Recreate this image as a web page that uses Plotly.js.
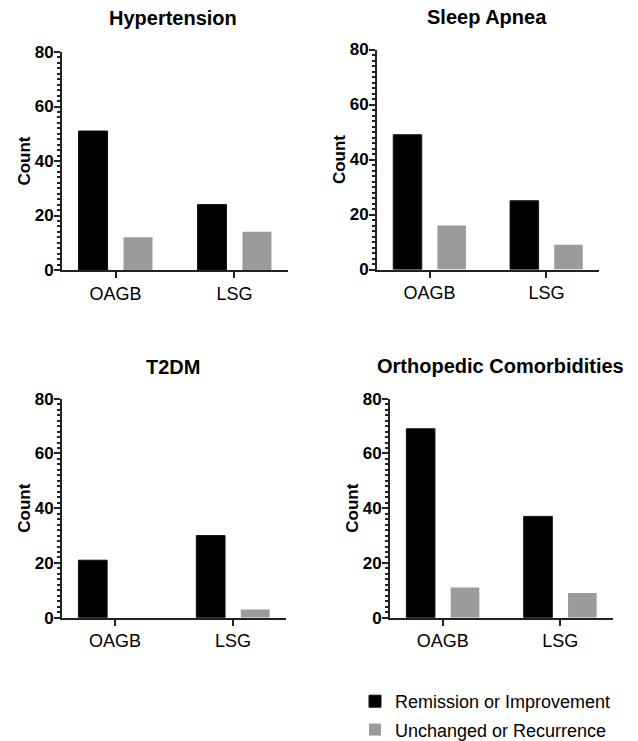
<!DOCTYPE html>
<html>
<head>
<meta charset="utf-8">
<script src="https://cdn.plot.ly/plotly-3.0.1.min.js"></script>
<style>html,body{margin:0;padding:0;background:#fff;}#chart{width:638px;height:741px;}</style>
</head>
<body>
<div id="chart"></div>
<script>
const categories = ["OAGB", "LSG"];
const panelTitles = ["Hypertension", "Sleep Apnea", "T2DM", "Orthopedic Comorbidities"];
const seriesNames = ["Remission or Improvement", "Unchanged or Recurrence"];
const remission = {
  "Hypertension": [51, 24],
  "Sleep Apnea": [49, 25],
  "T2DM": [21, 30],
  "Orthopedic Comorbidities": [69, 37]
};
const unchanged = {
  "Hypertension": [12, 14],
  "Sleep Apnea": [16, 9],
  "T2DM": [0, 3],
  "Orthopedic Comorbidities": [11, 9]
};
const yTickVals = [0, 20, 40, 60, 80];

const W = 638, H = 741;
// panel pixel boxes: [xLeft, xRight, yBottom(0), yTop(80)]
const boxes = [
  [62, 288, 270, 52],
  [377, 599, 269.5, 49.5],
  [62, 286, 617.7, 398.7],
  [390, 613, 617.7, 398.7]
];
const titlePos = [[173, 18], [487, 17], [173, 367], [500, 366]];
const colors = ["#000000", "#9b9b9b"];

const tickFont = {family: "Liberation Sans, Arial, sans-serif", size: 17, color: "#000", weight: "bold"};
const catFont = {family: "Liberation Sans, Arial, sans-serif", size: 18, color: "#000"};

const data = [];
const layout = {
  width: W, height: H,
  margin: {l: 0, r: 0, t: 0, b: 0, autoexpand: false},
  paper_bgcolor: "#fff", plot_bgcolor: "rgba(0,0,0,0)",
  barmode: "group", bargap: 0.244, bargroupgap: 0.355,
  showlegend: true,
  legend: {
    x: 355 / W, y: 1 - 683 / H, xanchor: "left", yanchor: "top",
    font: {family: "Liberation Sans, Arial, sans-serif", size: 18, color: "#000"},
    bgcolor: "rgba(0,0,0,0)", borderwidth: 0, tracegroupgap: 2, traceorder: "grouped"
  },
  annotations: [],
  font: {family: "Liberation Sans, Arial, sans-serif"}
};

panelTitles.forEach((t, i) => {
  const n = i === 0 ? "" : String(i + 1);
  const b = boxes[i];
  [remission, unchanged].forEach((src, s) => {
    data.push({
      type: "bar", x: categories, y: src[t], name: seriesNames[s],
      xaxis: "x" + n, yaxis: "y" + n,
      marker: {color: colors[s], line: {width: s === 0 ? 1 : 0, color: "#111"}},
      showlegend: i === 0, legendgroup: "g" + s,
      hoverinfo: "x+y+name"
    });
  });
  layout["xaxis" + n] = {
    domain: [b[0] / W, b[1] / W], anchor: "y" + n,
    type: "category", range: [-0.45, 1.45], fixedrange: true,
    showline: true, linewidth: 2, linecolor: "#222",
    ticks: "outside", ticklen: 6, tickwidth: 2, tickcolor: "#222",
    showgrid: false, zeroline: false, tickfont: catFont
  };
  layout["yaxis" + n] = {
    domain: [1 - b[2] / H, 1 - b[3] / H], anchor: "x" + n,
    range: [0, 80], tickvals: yTickVals, fixedrange: true,
    showline: true, linewidth: 2, linecolor: "#222",
    ticks: "outside", ticklen: 6, tickwidth: 2, tickcolor: "#222",
    ticklabelstandoff: -3,
    minor: {dtick: 2, ticks: "outside", ticklen: 3, tickwidth: 1.5, tickcolor: "#222"},
    showgrid: false, zeroline: false, tickfont: tickFont,
    title: {text: "Count", font: {family: "Liberation Sans, Arial, sans-serif", size: 17, color: "#000", weight: "bold"}, standoff: 0}
  };
  layout.annotations.push({
    text: "<b>" + t + "</b>", xref: "paper", yref: "paper",
    x: titlePos[i][0] / W, y: 1 - titlePos[i][1] / H,
    xanchor: "center", yanchor: "middle", showarrow: false,
    font: {family: "Liberation Sans, Arial, sans-serif", size: 20, color: "#000"}
  });
});

Plotly.newPlot("chart", data, layout, {displayModeBar: false, staticPlot: false});
</script>
</body>
</html>
